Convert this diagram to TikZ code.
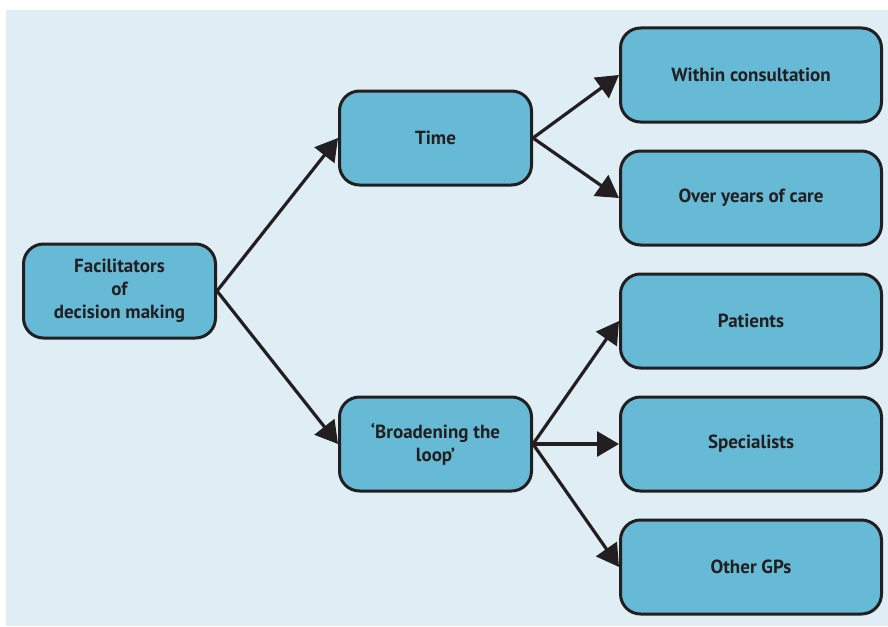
\documentclass[tikz,border=0pt]{standalone}
\usepackage{fontspec}
\setmainfont{PT Sans}
\usetikzlibrary{positioning}
\usetikzlibrary{arrows.meta}

\definecolor{bgblue}{HTML}{DFEEF5}
\definecolor{boxblue}{HTML}{66BAD6}
\definecolor{darkline}{HTML}{231F20}

\begin{document}
\begin{tikzpicture}
	[boxstyle/.style={rectangle,rounded corners=20pt,draw=darkline,fill=boxblue,line width=3pt,align=center,text=darkline,font=\fontsize{19}{23}\selectfont\bfseries,minimum width=192pt,minimum height=94pt},
	widestyle/.style={boxstyle,minimum width=261pt},
	arrowstyle/.style={draw=darkline,line width=3.2pt,-{Triangle[length=22pt,width=25pt]}}
	]
	
	%Set params
	\def\hordist{121pt}
	\def\verdist{56pt}
	\def\coldist{86pt}
	\def\rowdist{26pt}
	
	%Background
	\useasboundingbox (0,0) rectangle (888pt,-626pt);
	\fill[bgblue] (6pt,-10pt) rectangle (888pt,-626pt);
	
	\node(Fac)[boxstyle] at (119.5pt,-291pt){Facilitators\\of\\decision making};
	\node(Time)[boxstyle, above right = \verdist and \hordist of Fac]{Time};
	\node(Loop)[boxstyle, below right = \verdist and \hordist of Fac]{‘Broadening the\\loop’};
	
	%Right column
	\node(Spec)[widestyle, right = \coldist of Loop]{Specialists};
	\node(Pat)[widestyle, above = \rowdist of Spec]{Patients};
	\node(Years)[widestyle, above = \rowdist of Pat]{Over years of care};
	\node(Within)[widestyle, above = \rowdist of Years]{Within consultation};
	\node(GPs)[widestyle, below = \rowdist of Spec]{Other GPs};
	
	%Arrows
	\draw[arrowstyle] (Fac.east) -- (Time.west);
	\draw[arrowstyle] (Fac.east) -- (Loop.west);
	\draw[arrowstyle] (Time.east) -- (Within.west);
	\draw[arrowstyle] (Time.east) -- (Years.west);
	\draw[arrowstyle] (Loop.east) -- (Pat.west);
	\draw[arrowstyle] (Loop.east) -- (Spec.west);
	\draw[arrowstyle] (Loop.east) -- (GPs.west);
	
\end{tikzpicture}
\end{document}
